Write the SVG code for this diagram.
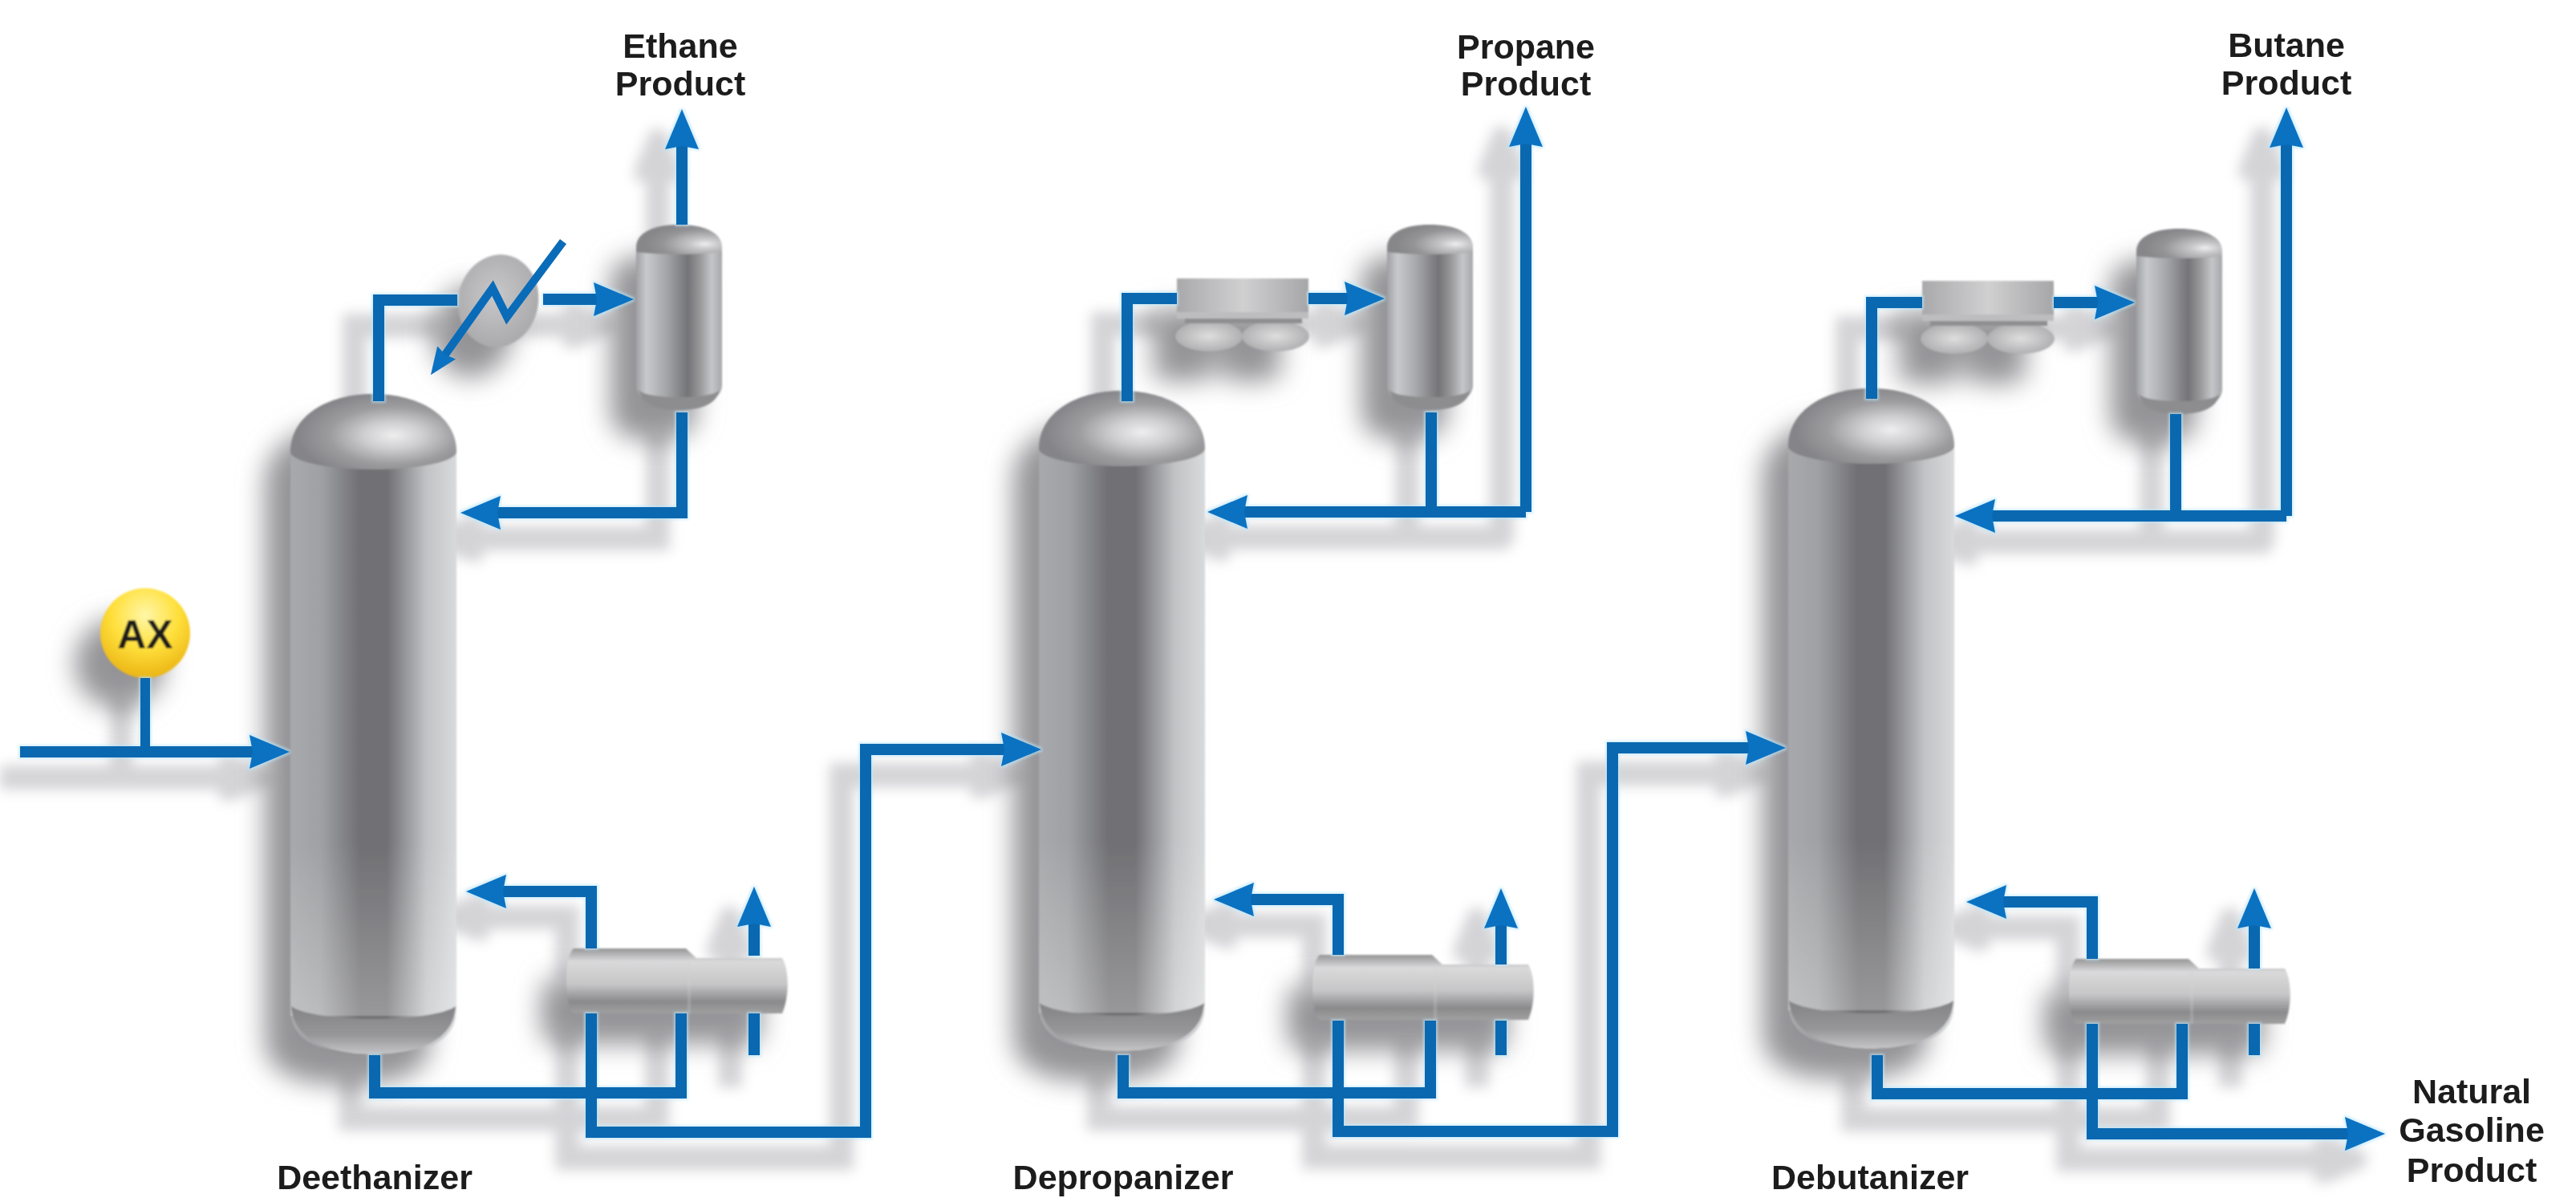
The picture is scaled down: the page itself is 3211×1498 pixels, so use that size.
<svg xmlns="http://www.w3.org/2000/svg" width="3211" height="1498" viewBox="0 0 3211 1498">
<style>
.pipe{fill:none;stroke:#0a68b0;stroke-width:14;stroke-linejoin:miter}
.arrow{marker-end:url(#head)}
.thin{fill:none;stroke:#0a6cb8;stroke-width:10}
.lbl{font-family:"Liberation Sans",Arial,sans-serif;font-weight:700;font-size:43px;fill:#1c1c1c;text-anchor:middle}
</style>
<defs>
<marker id="head" markerUnits="userSpaceOnUse" markerWidth="50" markerHeight="42" refX="20" refY="21" orient="auto"><path d="M0 0L50 21L0 42L4 21z" fill="#0b72c2"/></marker>
<marker id="smallhead" markerUnits="userSpaceOnUse" markerWidth="34" markerHeight="30" refX="8" refY="15" orient="auto"><path d="M0 1L34 15L0 29L3 15z" fill="#0b72c2"/></marker>
<filter id="shadow" filterUnits="userSpaceOnUse" x="0" y="0" width="3211" height="1498" color-interpolation-filters="sRGB"><feOffset dx="-32" dy="38"/><feGaussianBlur stdDeviation="16"/><feColorMatrix type="matrix" values="0 0 0 0 .42 0 0 0 0 .42 0 0 0 0 .44 0 0 0 .72 0"/></filter>
<filter id="pipeshadow" filterUnits="userSpaceOnUse" x="0" y="0" width="3211" height="1498" color-interpolation-filters="sRGB"><feOffset dx="-30" dy="32"/><feMorphology operator="dilate" radius="8"/><feGaussianBlur stdDeviation="8"/><feColorMatrix type="matrix" values="0 0 0 0 .6 0 0 0 0 .6 0 0 0 0 .63 0 0 0 .42 0"/></filter>
<filter id="halo" filterUnits="userSpaceOnUse" x="0" y="0" width="3211" height="1498" color-interpolation-filters="sRGB"><feMorphology operator="dilate" radius="2"/><feGaussianBlur stdDeviation="1.5"/><feColorMatrix type="matrix" values="0 0 0 0 .72 0 0 0 0 .9 0 0 0 0 .98 0 0 0 .6 0"/></filter>
<filter id="soft" filterUnits="userSpaceOnUse" x="0" y="0" width="3211" height="1498"><feGaussianBlur stdDeviation="1.2"/></filter>
<linearGradient id="bodyG" x1="0" x2="1" y1="0" y2="0"><stop offset="0" stop-color="#a8a9ac"/><stop offset=".18" stop-color="#a0a1a4"/><stop offset=".42" stop-color="#707074"/><stop offset=".58" stop-color="#707074"/><stop offset=".82" stop-color="#c2c3c6"/><stop offset="1" stop-color="#d9dadc"/></linearGradient>
<linearGradient id="fadeG" x1="0" x2="0" y1="0" y2="1"><stop offset="0" stop-color="#fff" stop-opacity="0"/><stop offset="1" stop-color="#fff" stop-opacity=".28"/></linearGradient>
<radialGradient id="domeG" cx=".62" cy=".55" r=".58"><stop offset="0" stop-color="#eeeeef"/><stop offset=".3" stop-color="#cfcfd1"/><stop offset=".66" stop-color="#9c9c9f"/><stop offset="1" stop-color="#858589"/></radialGradient>
<radialGradient id="drumDomeG" cx=".8" cy=".65" r=".7"><stop offset="0" stop-color="#eeeeef"/><stop offset=".25" stop-color="#c6c6c8"/><stop offset=".7" stop-color="#949497"/><stop offset="1" stop-color="#87878a"/></radialGradient>
<linearGradient id="capG" x1="0" x2="0" y1="0" y2="1"><stop offset="0" stop-color="#838386"/><stop offset=".6" stop-color="#97979a"/><stop offset="1" stop-color="#c6c6c8"/></linearGradient>
<linearGradient id="drumG" x1="0" x2="1" y1="0" y2="0"><stop offset="0" stop-color="#a0a1a4"/><stop offset=".12" stop-color="#c8c9cc"/><stop offset=".35" stop-color="#a5a6a9"/><stop offset=".6" stop-color="#747478"/><stop offset=".75" stop-color="#9a9a9d"/><stop offset=".88" stop-color="#c5c6c9"/><stop offset="1" stop-color="#a6a7aa"/></linearGradient>
<linearGradient id="rebG" x1="0" x2="0" y1="0" y2="1"><stop offset="0" stop-color="#969697"/><stop offset=".2" stop-color="#dadadb"/><stop offset=".55" stop-color="#c6c6c7"/><stop offset=".82" stop-color="#8a8a8c"/><stop offset="1" stop-color="#a0a0a1"/></linearGradient>
<linearGradient id="boxG" x1="0" x2="1" y1="0" y2="0"><stop offset="0" stop-color="#a9a9ab"/><stop offset=".5" stop-color="#d0d0d1"/><stop offset="1" stop-color="#a6a6a8"/></linearGradient>
<radialGradient id="fanG"><stop offset="0" stop-color="#dedede"/><stop offset="1" stop-color="#b0b0b2"/></radialGradient>
<radialGradient id="exG" cx=".45" cy=".45" r=".6"><stop offset="0" stop-color="#c8c8ca"/><stop offset="1" stop-color="#a8a8aa"/></radialGradient>
<radialGradient id="axG" cx=".5" cy=".3" r=".75"><stop offset="0" stop-color="#fff7a8"/><stop offset=".5" stop-color="#ffdf3a"/><stop offset="1" stop-color="#e8ae10"/></radialGradient>
<g id="column">
<path d="M0 70H207V765C207 795 190 823 103 823C17 823 0 795 0 765Z" fill="url(#bodyG)"/>
<rect x="0" y="560" width="207" height="215" fill="url(#fadeG)"/>
<path d="M1 763C30 784 177 784 206 763C204 805 160 823 103 823C47 823 4 805 1 763Z" fill="url(#capG)"/>
<path d="M0 72C0 28 45 0 103 0C162 0 207 28 207 72C207 84 160 94 103 94C47 94 0 84 0 72Z" fill="url(#domeG)"/>
</g>
<g id="drum">
<path d="M0 30H107V200C107 216 85 230 53 230C22 230 0 216 0 200Z" fill="url(#drumG)"/>
<path d="M3 206C12 218 95 218 104 206C100 222 85 231 53 231C22 231 7 222 3 206Z" fill="#8d8d90"/>
<path d="M0 28C0 10 22 0 53 0C85 0 107 10 107 28V34C80 38 27 38 0 34Z" fill="url(#drumDomeG)"/>
</g>
<g id="reboiler">
<path d="M10 0H150L163 12H270C278 24 280 58 270 81H10C-2 70 -2 10 10 0Z" fill="url(#rebG)"/>
<path d="M154 12V81" stroke="#d2d2d4" stroke-width="4" opacity=".25"/>
</g>
<g id="cooler">
<ellipse cx="40" cy="72" rx="42" ry="19" fill="url(#fanG)"/>
<ellipse cx="123" cy="72" rx="42" ry="19" fill="url(#fanG)"/>
<rect x="0" y="0" width="164" height="50" fill="url(#boxG)"/>
<rect x="0" y="42" width="164" height="8" fill="#bdbdbf"/>
<rect x="10" y="50" width="146" height="6" fill="#8f8f91"/>
</g>
<g id="nodes">
<g id="deethanizer"><use href="#column" x="362" y="491"/></g>
<g id="depropanizer"><use href="#column" x="1295" y="487"/></g>
<g id="debutanizer"><use href="#column" x="2229" y="484"/></g>
<g id="accumulator-1"><use href="#drum" x="793" y="280"/></g>
<g id="accumulator-2"><use href="#drum" x="1729" y="280"/></g>
<g id="accumulator-3"><use href="#drum" x="2663" y="285"/></g>
<g id="condenser-1"><ellipse cx="621" cy="375" rx="50" ry="58" transform="rotate(12 621 375)" fill="url(#exG)"/></g>
<g id="condenser-2"><use href="#cooler" x="1467" y="347"/></g>
<g id="condenser-3"><use href="#cooler" x="2396" y="350"/></g>
<g id="reboiler-1"><use href="#reboiler" x="705" y="1182"/></g>
<g id="reboiler-2"><use href="#reboiler" x="1635" y="1190"/></g>
<g id="reboiler-3"><use href="#reboiler" x="2578" y="1195"/></g>
<g id="analyzer"><circle cx="181" cy="789" r="56" fill="url(#axG)"/><text x="181" y="808" class="lbl" style="font-size:50px">AX</text></g>
</g>
<g id="connectors">
<path class="pipe arrow" d="M25 937H331"/>
<path class="pipe" d="M181 845V937" style="stroke-width:12"/>
<path class="pipe arrow" d="M850 280V166"/>
<path class="pipe" d="M472 500V374H570"/>
<path class="pipe arrow" d="M677 373H760"/>
<path class="pipe arrow" d="M850 514V639H604"/>
<path class="pipe" d="M467 1315V1362H849V1263"/>
<path class="pipe arrow" d="M737 1182V1111H611"/>
<path class="pipe arrow" d="M737 1263V1411H1079V934H1268"/>
<path class="pipe" d="M940 1315V1263"/>
<path class="pipe arrow" d="M940 1191V1135"/>
<path class="pipe" d="M1405 500V372H1467"/>
<path class="pipe arrow" d="M1631 372H1696"/>
<path class="pipe" d="M1784 514V638"/>
<path class="pipe arrow" d="M1902 638H1535"/>
<path class="pipe arrow" d="M1902 638V163"/>
<path class="pipe" d="M1400 1315V1362H1783V1272"/>
<path class="pipe arrow" d="M1668 1190V1121H1543"/>
<path class="pipe arrow" d="M1668 1272V1410H2010V932H2196"/>
<path class="pipe" d="M1871 1315V1272"/>
<path class="pipe arrow" d="M1871 1202V1137"/>
<path class="pipe" d="M2333 497V377H2396"/>
<path class="pipe arrow" d="M2560 377H2631"/>
<path class="pipe" d="M2712 516V643"/>
<path class="pipe arrow" d="M2850 643H2467"/>
<path class="pipe arrow" d="M2850 643V164"/>
<path class="pipe" d="M2340 1315V1363H2720V1276"/>
<path class="pipe arrow" d="M2608 1195V1124H2481"/>
<path class="pipe arrow" d="M2608 1276V1413H2943"/>
<path class="pipe" d="M2810 1315V1276"/>
<path class="pipe arrow" d="M2810 1207V1137"/>
</g>
</defs>
<rect width="3211" height="1498" fill="#fff"/>
<use href="#connectors" filter="url(#pipeshadow)"/>
<use href="#nodes" filter="url(#shadow)"/>
<use href="#nodes" filter="url(#soft)"/>
<use href="#connectors" filter="url(#halo)"/>
<use href="#connectors"/>
<path class="thin" d="M702 301L632 395L614 359L552 446" marker-end="url(#smallhead)"/>
<g id="labels">
<text class="lbl" x="848" y="72">Ethane</text><text class="lbl" x="848" y="119">Product</text>
<text class="lbl" x="1902" y="73">Propane</text><text class="lbl" x="1902" y="119">Product</text>
<text class="lbl" x="2850" y="71">Butane</text><text class="lbl" x="2850" y="118">Product</text>
<text class="lbl" x="467" y="1482">Deethanizer</text>
<text class="lbl" x="1400" y="1482">Depropanizer</text>
<text class="lbl" x="2331" y="1482">Debutanizer</text>
<text class="lbl" x="3081" y="1375">Natural</text><text class="lbl" x="3081" y="1423">Gasoline</text><text class="lbl" x="3081" y="1473">Product</text>
</g>
</svg>
